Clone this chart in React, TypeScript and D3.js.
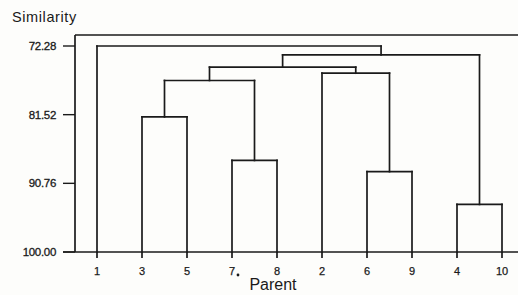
import React from "react";
import * as d3 from "d3";

const leaves = ["1", "3", "5", "7", "8", "2", "6", "9", "4", "10"];
// merges: [left node, right node, similarity level]; new node id = "m" + index
const mergeLeft = ["3", "7", "6", "4", "m0", "2", "m4", "m6", "1"];
const mergeRight = ["5", "8", "9", "10", "m1", "m2", "m5", "m3", "m7"];
const mergeLevel = [81.83, 87.68, 89.19, 93.6, 76.92, 75.94, 75.13, 73.48, 72.28];
const yTicks = [72.28, 81.52, 90.76, 100.0];

const W = 518;
const H = 295;

export default function App() {
  const y = d3.scaleLinear().domain([72.28, 100]).range([46, 252]);
  const x = d3.scaleLinear().domain([0, leaves.length - 1]).range([97, 502]);
  const frameTop = y(70.8);
  const axisY = y(100);
  const spineX = 75;

  const pos: Record<string, { x: number; y: number }> = {};
  leaves.forEach((l, i) => (pos[l] = { x: x(i), y: axisY }));
  const segs: { x1: number; y1: number; x2: number; y2: number }[] = [];
  mergeLeft.forEach((a, i) => {
    const b = mergeRight[i];
    const h = y(mergeLevel[i]);
    const pa = pos[a];
    const pb = pos[b];
    segs.push({ x1: pa.x, y1: pa.y, x2: pa.x, y2: h });
    segs.push({ x1: pb.x, y1: pb.y, x2: pb.x, y2: h });
    segs.push({ x1: pa.x, y1: h, x2: pb.x, y2: h });
    pos["m" + i] = { x: (pa.x + pb.x) / 2, y: h };
  });

  const ink = "#1a1a1a";
  const font = "'Liberation Sans', Arial, sans-serif";

  return (
    <svg width={W} height={H} style={{ position: "absolute", left: 0, top: 0, background: "#fdfdfb" }}>
      <rect x={0} y={0} width={W} height={H} fill="#fdfdfb" />
      <text x={12} y={22} fontFamily={font} fontSize={14.5} letterSpacing={0.6} fill={ink}>
        Similarity
      </text>
      {/* frame */}
      <line x1={spineX} y1={frameTop} x2={W} y2={frameTop} stroke={ink} strokeWidth={1.7} />
      <line x1={spineX} y1={frameTop} x2={spineX} y2={axisY} stroke={ink} strokeWidth={1.7} />
      <line x1={63} y1={axisY} x2={W} y2={axisY} stroke={ink} strokeWidth={1.7} />
      {/* y ticks */}
      {yTicks.map((t) => (
        <g key={t}>
          <line x1={63} x2={spineX} y1={y(t)} y2={y(t)} stroke={ink} strokeWidth={1.4} />
          <text
            x={56}
            y={y(t)}
            dy="0.36em"
            textAnchor="end"
            fontFamily={font}
            fontSize={11.5}
            letterSpacing={-0.3}
            stroke={ink}
            strokeWidth={0.3}
            fill={ink}
          >
            {t.toFixed(2)}
          </text>
        </g>
      ))}
      {/* x ticks */}
      {leaves.map((l, i) => (
        <g key={l}>
          <line x1={x(i)} x2={x(i)} y1={axisY} y2={axisY + 6} stroke={ink} strokeWidth={1.7} />
          <text
            x={x(i)}
            y={axisY + 23}
            textAnchor="middle"
            fontFamily={font}
            fontSize={11}
            stroke={ink}
            strokeWidth={0.25}
            fill={ink}
          >
            {l}
          </text>
        </g>
      ))}
      <circle cx={x(3) + 6} cy={axisY + 23} r={1.4} fill={ink} />
      {/* dendrogram */}
      {segs.map((s, i) => (
        <line
          key={i}
          x1={s.x1}
          y1={s.y1}
          x2={s.x2}
          y2={s.y2}
          stroke={ink}
          strokeWidth={1.7}
          strokeLinecap="square"
        />
      ))}
      <text x={273} y={290} textAnchor="middle" fontFamily={font} fontSize={16} fill={ink}>
        Parent
      </text>
    </svg>
  );
}
